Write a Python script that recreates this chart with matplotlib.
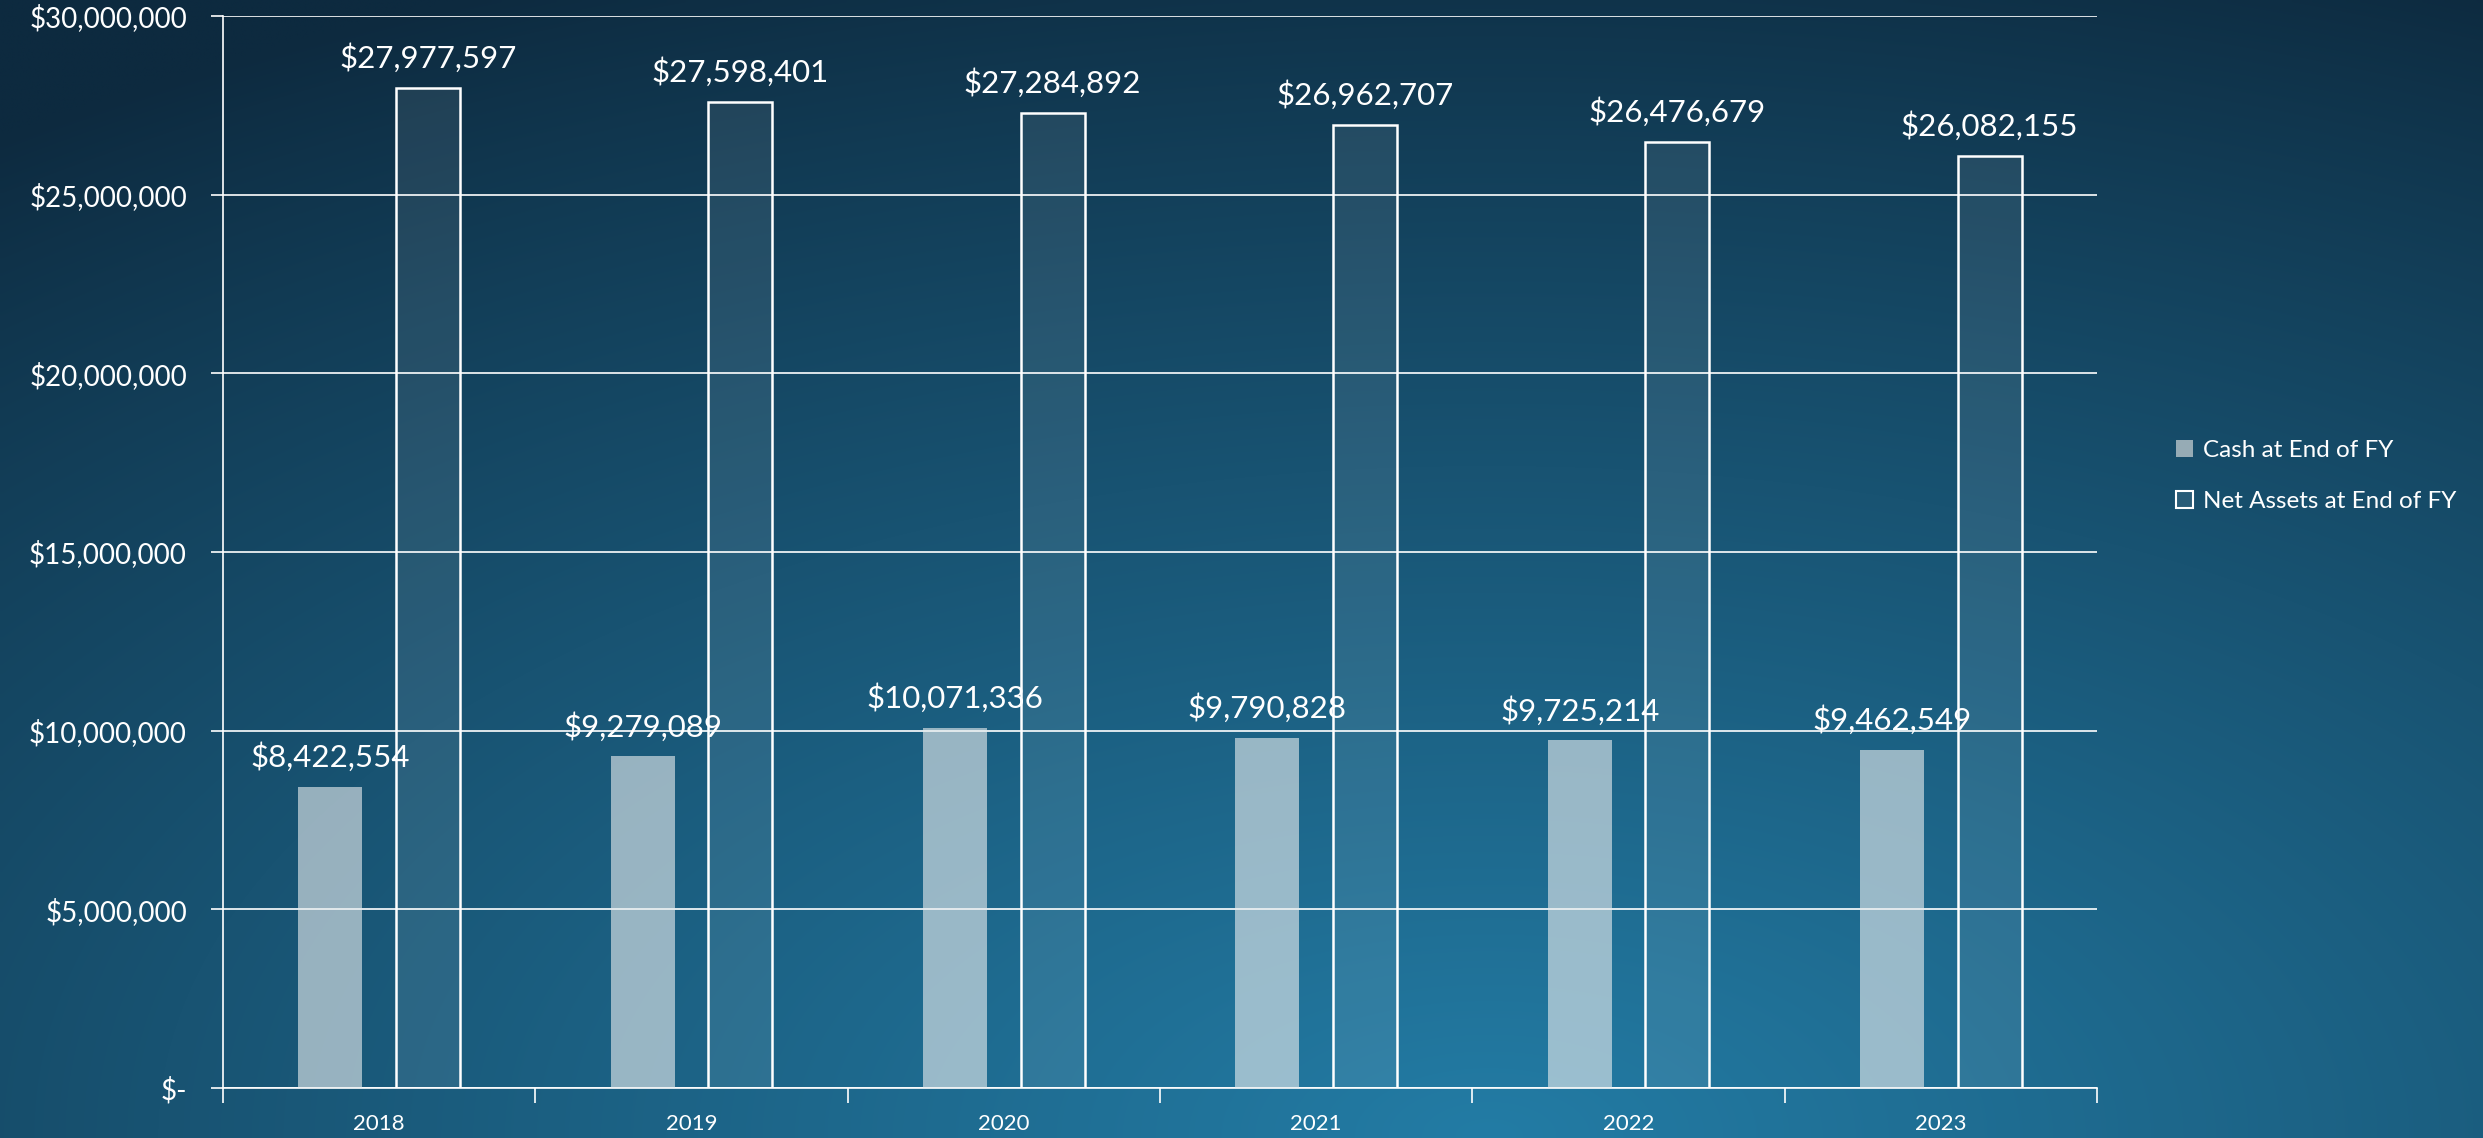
import numpy as np
import matplotlib.pyplot as plt
from matplotlib.patches import Patch

years = ["2018", "2019", "2020", "2021", "2022", "2023"]
cash_end_fy = [8422554, 9279089, 10071336, 9790828, 9725214, 9462549]
net_assets_end_fy = [27977597, 27598401, 27284892, 26962707, 26476679, 26082155]

y_ticks = [0, 5000000, 10000000, 15000000, 20000000, 25000000, 30000000]
y_tick_labels = ["$-", "$5,000,000", "$10,000,000", "$15,000,000",
                 "$20,000,000", "$25,000,000", "$30,000,000"]

plt.rcParams['font.family'] = ['Lato', 'DejaVu Sans']

W, H, DPI = 2483, 1138, 100
fig = plt.figure(figsize=(W / DPI, H / DPI), dpi=DPI)

# blue gradient backdrop, brightest near the bottom middle
bg_ax = fig.add_axes([0, 0, 1, 1], zorder=-10)
gx, gy = np.meshgrid(np.linspace(0, 1, 500), np.linspace(0, 1, 250))
d = np.sqrt(((gx - 0.6) / 1.0) ** 2 + ((gy - 1.0) / 1.1) ** 2)
t = np.clip(1 - d, 0, 1) ** 0.9
dark = np.array([13, 42, 63]) / 255
light = np.array([35, 124, 165]) / 255
img = dark[None, None, :] + (light - dark)[None, None, :] * t[..., None]
bg_ax.imshow(img, aspect='auto', extent=[0, 1, 1, 0], interpolation='bilinear')
bg_ax.axis('off')
fig.patch.set_facecolor((13 / 255, 42 / 255, 63 / 255))

ax = fig.add_axes([223 / W, 1 - 1088 / H, (2097 - 223) / W, (1088 - 16) / H])
ax.set_facecolor('none')

x = np.arange(len(years))
bw = 0.205
off = 0.156
cash_bars = ax.bar(x - off, cash_end_fy, bw, color=(0.9, 0.92, 0.93), alpha=0.62,
                   linewidth=0, zorder=3)
net_bars = ax.bar(x + off, net_assets_end_fy, bw, facecolor=(1, 1, 1, 0.08),
                  edgecolor='white', linewidth=1.8, zorder=3)

for xi, v in zip(x - off, cash_end_fy):
    ax.annotate(f"${v:,.0f}", (xi, v), xytext=(0, 30), textcoords='offset pixels',
                ha='center', va='center', color='white', fontsize=22.5, zorder=5)
for xi, v in zip(x + off, net_assets_end_fy):
    ax.annotate(f"${v:,.0f}", (xi, v), xytext=(0, 30), textcoords='offset pixels',
                ha='center', va='center', color='white', fontsize=22.5, zorder=5)

ax.set_ylim(0, 30000000)
ax.set_xlim(-0.5, len(years) - 0.5)
ax.set_yticks(y_ticks)
ax.set_yticklabels(y_tick_labels)
ax.yaxis.grid(True, color='white', linewidth=1.2, zorder=1)
ax.set_axisbelow(True)

ax.set_xticks(x)
ax.set_xticklabels(years)
ax.set_xticks(np.arange(-0.5, len(years)), minor=True)
ax.tick_params(axis='x', which='major', length=0, pad=19, labelsize=16, labelcolor='white')
ax.tick_params(axis='x', which='minor', length=11, width=1.2, color='white')
ax.tick_params(axis='y', length=9, width=1.2, color='white', pad=17,
               labelsize=20, labelcolor='white')

for side in ['top', 'right']:
    ax.spines[side].set_visible(False)
for side in ['left', 'bottom']:
    ax.spines[side].set_color('white')
    ax.spines[side].set_linewidth(1.2)

handles = [
    Patch(facecolor=(0.59, 0.67, 0.71), edgecolor='none', label="Cash at End of FY"),
    Patch(facecolor=(1, 1, 1, 0.08), edgecolor='white', linewidth=1.5,
          label="Net Assets at End of FY"),
]
leg = fig.legend(handles=handles, loc='upper left', bbox_to_anchor=(2154 / W, 1 - 418 / H),
                 frameon=False, fontsize=17.5, labelcolor='white', handlelength=0.7,
                 handleheight=0.7, handletextpad=0.4, labelspacing=1.25)

fig.savefig("out.png", dpi=DPI, facecolor=fig.get_facecolor())
